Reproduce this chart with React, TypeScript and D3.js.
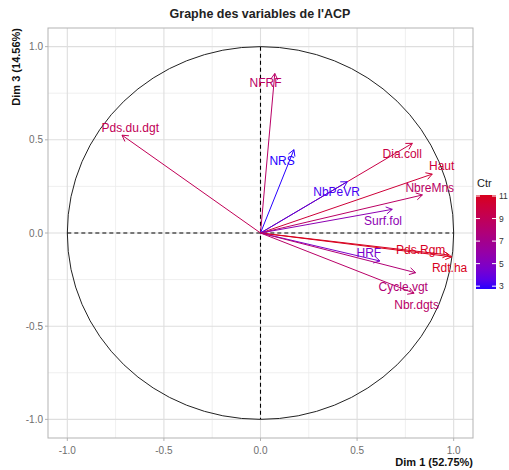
import * as d3 from "d3";

// variables of the PCA (Dim 1 vs Dim 3)
const variables = [
  "NFRF", "NRS", "Pds.du.dgt", "Dia.coll", "Haut", "NbreMns", "NbPeVR",
  "Surf.fol", "Pds.Rgm", "Rdt.ha", "HRF", "Cycle.vgt", "Nbr.dgts",
];
const dim1 = [0.074, 0.173, -0.717, 0.786, 0.889, 0.838, 0.449, 0.682, 0.975, 0.99, 0.618, 0.803, 0.795];
const dim3 = [0.856, 0.447, 0.525, 0.481, 0.316, 0.204, 0.275, 0.127, -0.118, -0.128, -0.15, -0.213, -0.323];
const contrib = [8.44, 2.75, 9.03, 9.7, 10.17, 8.5, 3.17, 5.5, 11.0, 11.09, 4.6, 7.9, 8.4];
// where ggrepel put the labels (data units)
const labelX = [0.026, 0.112, -0.674, 0.734, 0.938, 0.876, 0.394, 0.634, 0.829, 0.979, 0.561, 0.739, 0.808];
const labelY = [0.807, 0.388, 0.567, 0.427, 0.359, 0.243, 0.221, 0.066, -0.091, -0.188, -0.106, -0.288, -0.386];

const majorTicks = [-1, -0.5, 0, 0.5, 1];
const minorTicks = [-0.75, -0.25, 0.25, 0.75];
const legendTicks = [3, 5, 7, 9, 11];
const gradientColors = ["#2600ff", "#a2008e", "#d8001c"];

const W = 509;
const H = 470;
const panel = { left: 48, right: 473, top: 28, bottom: 438 };
const font = "Liberation Sans, Arial, sans-serif";
const fmt = (t: number) => d3.format(".1f")(t).replace("−", "-");

export default function App() {
  const x = d3.scaleLinear().domain([-1.1, 1.1]).range([panel.left, panel.right]);
  const y = d3.scaleLinear().domain([-1.1, 1.1]).range([panel.bottom, panel.top]);
  const ctrExtent = d3.extent(contrib) as [number, number];
  const color = d3
    .scaleLinear<string>()
    .domain([ctrExtent[0], (ctrExtent[0] + ctrExtent[1]) / 2, ctrExtent[1]])
    .range(gradientColors)
    .interpolate(d3.interpolateLab);

  const bar = { x: 476, w: 20, top: 195, bottom: 289 };
  const ly = d3.scaleLinear().domain(ctrExtent).range([bar.bottom, bar.top]);
  const stops = d3.range(0, 1.001, 0.1);

  const arrowHead = (x0: number, y0: number, x1: number, y1: number) => {
    const a = Math.atan2(y1 - y0, x1 - x0);
    const len = 7;
    const p1 = [x1 - len * Math.cos(a - Math.PI / 6), y1 - len * Math.sin(a - Math.PI / 6)];
    const p2 = [x1 - len * Math.cos(a + Math.PI / 6), y1 - len * Math.sin(a + Math.PI / 6)];
    return `M${p1[0]},${p1[1]}L${x1},${y1}L${p2[0]},${p2[1]}`;
  };

  return (
    <svg width={W} height={H} style={{ position: "absolute", left: 0, top: 0 }} fontFamily={font}>
      <defs>
        <linearGradient id="ctrGrad" x1="0" y1="1" x2="0" y2="0">
          {stops.map((t) => (
            <stop key={t} offset={t} stopColor={color(ctrExtent[0] + t * (ctrExtent[1] - ctrExtent[0]))} />
          ))}
        </linearGradient>
      </defs>
      <rect width={W} height={H} fill="white" />
      <text x={260} y={18} textAnchor="middle" fontSize={12.5} fontWeight="bold" fill="#222">
        Graphe des variables de l'ACP
      </text>

      {/* grid */}
      {minorTicks.map((t) => (
        <g key={"m" + t} stroke="#ebebeb" strokeWidth={0.8}>
          <line x1={x(t)} x2={x(t)} y1={panel.top} y2={panel.bottom} />
          <line y1={y(t)} y2={y(t)} x1={panel.left} x2={panel.right} />
        </g>
      ))}
      {majorTicks.map((t) => (
        <g key={"M" + t} stroke="#dedede" strokeWidth={1.1}>
          <line x1={x(t)} x2={x(t)} y1={panel.top} y2={panel.bottom} />
          <line y1={y(t)} y2={y(t)} x1={panel.left} x2={panel.right} />
        </g>
      ))}

      {/* unit circle */}
      <ellipse
        cx={x(0)}
        cy={y(0)}
        rx={x(1) - x(0)}
        ry={y(0) - y(1)}
        fill="none"
        stroke="#222"
        strokeWidth={1}
      />
      <line x1={x(0)} x2={x(0)} y1={y(1)} y2={y(-1)} stroke="black" strokeWidth={1.1} strokeDasharray="4,3" />
      <line x1={x(-1)} x2={x(1)} y1={y(0)} y2={y(0)} stroke="black" strokeWidth={1.1} strokeDasharray="4,3" />

      {/* arrows */}
      {variables.map((v, i) => {
        const c = color(contrib[i]);
        const x0 = x(0), y0 = y(0), x1 = x(dim1[i]), y1 = y(dim3[i]);
        return (
          <g key={v} stroke={c} strokeWidth={1} fill="none">
            <line x1={x0} y1={y0} x2={x1} y2={y1} />
            <path d={arrowHead(x0, y0, x1, y1)} />
          </g>
        );
      })}
      {variables.map((v, i) => (
        <text
          key={"t" + v}
          x={x(labelX[i])}
          y={y(labelY[i])}
          dy="0.35em"
          textAnchor="middle"
          fontSize={12}
          fill={color(contrib[i])}
        >
          {v}
        </text>
      ))}

      {/* panel border */}
      <rect
        x={panel.left}
        y={panel.top}
        width={panel.right - panel.left}
        height={panel.bottom - panel.top}
        fill="none"
        stroke="#b3b3b3"
        strokeWidth={1}
      />

      {/* axes */}
      {majorTicks.map((t) => (
        <g key={"ax" + t}>
          <line x1={x(t)} x2={x(t)} y1={panel.bottom} y2={panel.bottom + 3} stroke="#b3b3b3" />
          <text x={x(t)} y={454} textAnchor="middle" fontSize={10} fill="#6e6e6e">
            {fmt(t)}
          </text>
          <line x1={panel.left - 3} x2={panel.left} y1={y(t)} y2={y(t)} stroke="#b3b3b3" />
          <text x={43} y={y(t)} dy="0.35em" textAnchor="end" fontSize={10} fill="#6e6e6e">
            {fmt(t)}
          </text>
        </g>
      ))}
      <text x={panel.right} y={466} textAnchor="end" fontSize={11} fontWeight="bold" fill="#111">
        Dim 1 (52.75%)
      </text>
      <text
        transform={`translate(19.5,${panel.top}) rotate(-90)`}
        textAnchor="end"
        fontSize={11}
        fontWeight="bold"
        fill="#111"
      >
        Dim 3 (14.56%)
      </text>

      {/* legend */}
      <text x={bar.x + 1} y={187} fontSize={11} fill="#222">
        Ctr
      </text>
      <rect x={bar.x} y={bar.top} width={bar.w} height={bar.bottom - bar.top} fill="url(#ctrGrad)" />
      {legendTicks.map((t) => (
        <g key={"lt" + t}>
          <line x1={bar.x} x2={bar.x + 4} y1={ly(t)} y2={ly(t)} stroke="white" />
          <line x1={bar.x + bar.w - 4} x2={bar.x + bar.w} y1={ly(t)} y2={ly(t)} stroke="white" />
          <text x={499} y={ly(t)} dy="0.35em" fontSize={8.5} fill="#333">
            {t}
          </text>
        </g>
      ))}
    </svg>
  );
}
